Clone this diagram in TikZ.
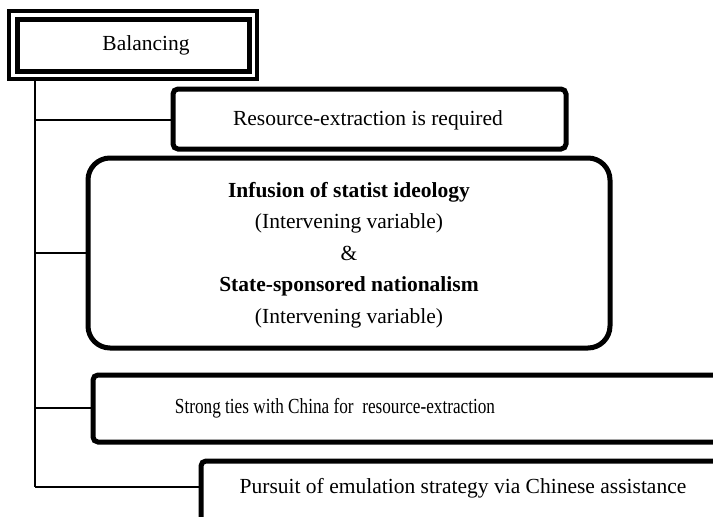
\documentclass[tikz,border=0pt]{standalone}
\usepackage{graphicx}
\usepackage{fontspec}
\setmainfont{Liberation Serif}
\begin{document}
\begin{tikzpicture}[x=1pt,y=-1pt,
  box/.style={draw=black,line width=5pt,rounded corners=5pt,fill=white},
  bigbox/.style={draw=black,line width=5pt,rounded corners=22pt,fill=white},
  lbl/.style={font=\fontsize{21.5}{31.5}\selectfont,align=center},
  conn/.style={draw=black,line width=1.3pt}]
\useasboundingbox (0,0) rectangle (713,517);
\clip (0,0) rectangle (713,517);
% trunk and branches
\coordinate (top) at (35,80);
\coordinate (b1) at (35,120);
\coordinate (b2) at (35,253);
\coordinate (b3) at (35,408);
\coordinate (b4) at (35,487);
\draw[conn] (top) -- (b4);
% boxes
\draw[draw=black,line width=4pt] (9,11) rectangle (257,79);
\draw[draw=black,line width=5pt] (17,19) rectangle (249,71);
\node[lbl] (bal) at (146,45) {Balancing};
\draw[box] (173,89) rectangle (566,149);
\node[lbl] (res) at (368,120) {Resource-extraction is required};
\draw[bigbox] (88,158) rectangle (610,348);
\node[lbl,inner sep=0pt] (inf) at (349,255) {\textbf{Infusion of statist ideology}\\(Intervening variable)\\\&\\\textbf{State-sponsored nationalism}\\(Intervening variable)};
\draw[box] (93,375) rectangle (730,442);
\node[lbl] (str) at (335,408) {\scalebox{0.8}[1]{Strong ties with China for\ \ resource-extraction}};
\draw[box] (201,461) rectangle (730,540);
\node[lbl] (pur) at (463,488) {Pursuit of emulation strategy via Chinese assistance};
\coordinate (e1) at (171,120);
\coordinate (e2) at (86,253);
\coordinate (e3) at (91,408);
\coordinate (e4) at (199,487);
\draw[conn] (b1) -- (e1);
\draw[conn] (b2) -- (e2);
\draw[conn] (b3) -- (e3);
\draw[conn] (b4) -- (e4);
\end{tikzpicture}
\end{document}
